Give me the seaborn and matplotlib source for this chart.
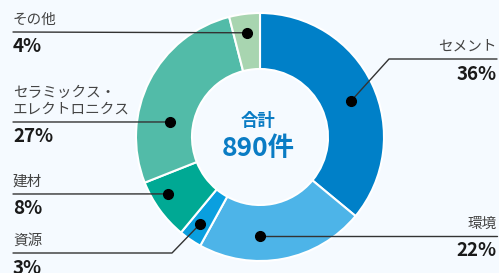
import numpy as np
import matplotlib
matplotlib.use("Agg")
import matplotlib.pyplot as plt
import seaborn as sns

# ---------------------------------------------------------
# Data
# ---------------------------------------------------------
categories = ["セメント", "環境", "資源", "建材", "セラミックス・\nエレクトロニクス", "その他"]
shares = [36, 22, 3, 8, 27, 4]
total_label = "合計"
total_value = "890件"
colors = ["#0080c8", "#4db4e8", "#0a9fdf", "#00a994", "#52bba8", "#a8d5b0"]

# ---------------------------------------------------------
# Layout (pixel space, y measured from top)
# ---------------------------------------------------------
W, H = 499, 273
cx, cy = 260, 137
r_out, r_in = 124, 68
BG = "#f5faff"

# per label: side, line y, dot (angle deg, radius), elbow x (or None)
label_layout = {
    "セメント": ("right", 59, (21.6, 98), 389),
    "環境": ("right", 236, (-90, 99), None),
    "資源": ("left", 253, (235.4, 106), 172),
    "建材": ("left", 194, (211.8, 108), None),
    "セラミックス・\nエレクトロニクス": ("left", 122, (170.5, 91), None),
    "その他": ("left", 32, (97, 105), None),
}

sns.set_theme(style="white")
plt.rcParams["font.family"] = ["Noto Sans CJK JP", "DejaVu Sans"]

fig = plt.figure(figsize=(W / 100, H / 100), dpi=100, facecolor=BG)
ax = fig.add_axes([0, 0, 1, 1])
ax.set_facecolor(BG)


def py(y):
    return H - y


ax.pie(shares, colors=colors, startangle=90, counterclock=False,
       radius=r_out, center=(cx, py(cy)),
       wedgeprops=dict(width=r_out - r_in, edgecolor="white", linewidth=1.5))
ax.set_xlim(0, W)
ax.set_ylim(0, H)
ax.set_aspect("equal")
ax.axis("off")

# center text
ax.text(258, py(121), total_label, ha="center", va="center",
        fontsize=12.5, color="#0a7cc4", fontweight="bold")
ax.text(258, py(148), total_value, ha="center", va="center",
        fontsize=19, color="#0a7cc4", fontweight="bold")

# labels + leader lines
for cat, pct in zip(categories, shares):
    side, ly, (ang, rad), elbow = label_layout[cat]
    dx = cx + rad * np.cos(np.radians(ang))
    dy = cy - rad * np.sin(np.radians(ang))
    if side == "left":
        x0, ha = 13, "left"
    else:
        x0, ha = 497, "right"
    if elbow is None:
        xs, ys = [x0, dx], [ly, dy]
    else:
        xs, ys = [x0, elbow, dx], [ly, ly, dy]
    ax.plot(xs, [py(v) for v in ys], color="#333333", lw=1, zorder=5)
    ax.plot(dx, py(dy), "o", color="black", ms=7, zorder=6)
    ax.text(x0, py(ly - 5), cat, ha=ha, va="bottom", fontsize=10.5,
            color="#444444", linespacing=1.25)
    ax.text(x0, py(ly + 15), f"{pct}%", ha=ha, va="center", fontsize=13.5,
            color="#1a1a1a", fontweight="bold")

fig.savefig("out.png", dpi=100, facecolor=BG)
